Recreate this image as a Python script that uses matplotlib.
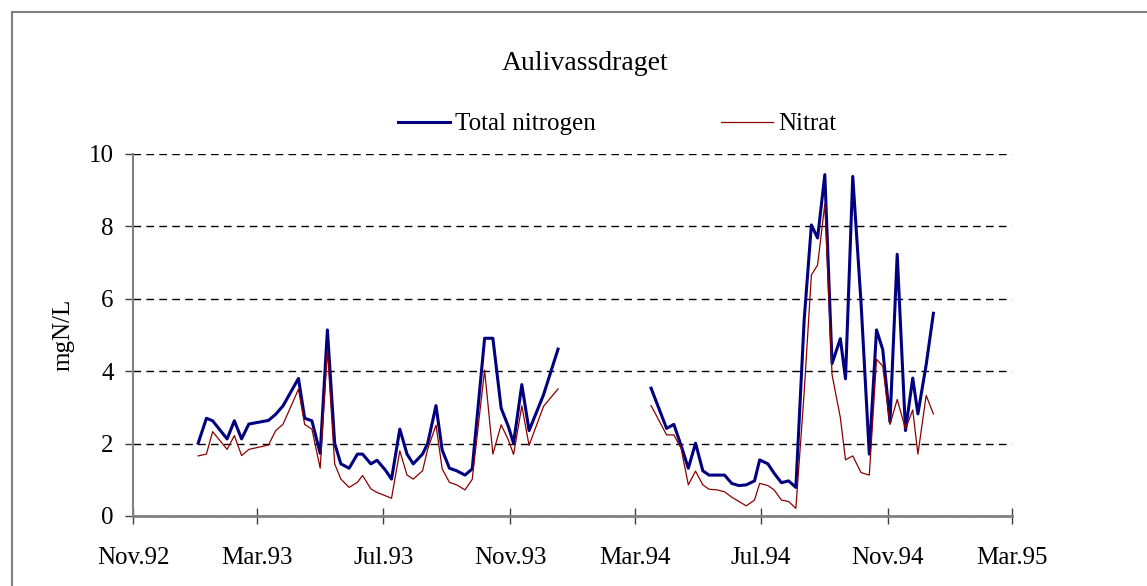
import numpy as np
import pandas as pd
import matplotlib
matplotlib.use('Agg')
import matplotlib.pyplot as plt
import matplotlib.dates as mdates
from matplotlib.patches import Rectangle

# sampling dates (weekly, with a winter gap)
dates = ['1993-01-03', '1993-01-11', '1993-01-17', '1993-01-31', '1993-02-07', '1993-02-14',
         '1993-02-21', '1993-03-12', '1993-03-19', '1993-03-26', '1993-04-10', '1993-04-16',
         '1993-04-23', '1993-05-01', '1993-05-08', '1993-05-15', '1993-05-21', '1993-05-29',
         '1993-06-06', '1993-06-11', '1993-06-19', '1993-06-25', '1993-07-03', '1993-07-09',
         '1993-07-17', '1993-07-24', '1993-07-30', '1993-08-08', '1993-08-13', '1993-08-21',
         '1993-08-27', '1993-09-03', '1993-09-10', '1993-09-18', '1993-09-25', '1993-10-07',
         '1993-10-15', '1993-10-23', '1993-10-30', '1993-11-04', '1993-11-12', '1993-11-19',
         '1993-12-03', '1993-12-17',
         '1994-03-17', '1994-04-01', '1994-04-08', '1994-04-15', '1994-04-22', '1994-04-29',
         '1994-05-06', '1994-05-12', '1994-05-20', '1994-05-27', '1994-06-03', '1994-06-10',
         '1994-06-17', '1994-06-25', '1994-06-30', '1994-07-08', '1994-07-14', '1994-07-21',
         '1994-07-28', '1994-08-04', '1994-08-12', '1994-08-19', '1994-08-25', '1994-09-01',
         '1994-09-08', '1994-09-16', '1994-09-21', '1994-09-28', '1994-10-06', '1994-10-14',
         '1994-10-21', '1994-10-27', '1994-11-03', '1994-11-10', '1994-11-18', '1994-11-25',
         '1994-11-30', '1994-12-08', '1994-12-15']

total_n = [2.01, 2.70, 2.63, 2.13, 2.63, 2.13, 2.54, 2.64, 2.81, 3.04, 3.80, 2.70,
           2.63, 1.73, 5.14, 2.01, 1.44, 1.32, 1.71, 1.71, 1.44, 1.54, 1.27, 1.02,
           2.40, 1.71, 1.44, 1.71, 2.01, 3.05, 1.82, 1.32, 1.25, 1.13, 1.30, 4.91,
           4.91, 2.98, 2.47, 2.01, 3.63, 2.36, 3.35, 4.61,
           3.53, 2.42, 2.53, 1.95, 1.32, 2.01, 1.25, 1.13, 1.13, 1.13, 0.90, 0.84,
           0.86, 0.97, 1.55, 1.44, 1.18, 0.92, 0.97, 0.79, 5.41, 8.04, 7.68, 9.43,
           4.21, 4.90, 3.79, 9.38, 5.90, 1.71, 5.14, 4.60, 2.60, 7.23, 2.36, 3.81,
           2.82, 4.18, 5.60]

nitrat = [1.66, 1.71, 2.33, 1.84, 2.22, 1.67, 1.84, 1.96, 2.36, 2.53, 3.50, 2.53,
          2.40, 1.32, 4.59, 1.44, 1.02, 0.79, 0.93, 1.12, 0.75, 0.65, 0.56, 0.49,
          1.80, 1.13, 1.02, 1.25, 1.85, 2.51, 1.30, 0.93, 0.86, 0.72, 1.01, 4.03,
          1.71, 2.52, 2.10, 1.70, 3.04, 1.95, 3.03, 3.51,
          3.05, 2.24, 2.24, 1.87, 0.86, 1.24, 0.86, 0.74, 0.72, 0.67, 0.52, 0.40,
          0.28, 0.44, 0.90, 0.84, 0.72, 0.44, 0.40, 0.21, 3.40, 6.66, 6.93, 8.62,
          3.90, 2.72, 1.55, 1.66, 1.20, 1.13, 4.33, 4.14, 2.53, 3.22, 2.40, 2.93,
          1.71, 3.33, 2.82]

df = pd.DataFrame({'date': pd.to_datetime(dates), 'tot': total_n, 'no3': nitrat})
# break the line over the winter gap
df['seg'] = (df['date'].diff() > pd.Timedelta(days=40)).cumsum()

plt.rcParams['font.family'] = ['Liberation Serif', 'DejaVu Serif']

fig = plt.figure(figsize=(11.47, 5.86), dpi=100)
ax = fig.add_axes([133/1147, 70/586, 879/1147, 362/586])

for k, g in df.groupby('seg'):
    l1, = ax.plot(g['date'], g['tot'], color='#000080', lw=2.2, zorder=3)
    l2, = ax.plot(g['date'], g['no3'], color='#8B0000', lw=0.9, zorder=4)

ax.set_xlim(pd.Timestamp('1992-11-01'), pd.Timestamp('1995-03-01'))
ax.set_ylim(0, 10)
ax.set_yticks([0, 2, 4, 6, 8, 10])
ax.xaxis.set_major_locator(mdates.MonthLocator(bymonth=[3, 7, 11]))
ax.xaxis.set_major_formatter(mdates.DateFormatter('%b.%y'))

ax.yaxis.grid(True, color='black', lw=1.0, linestyle=(0, (5.5, 3.8)))
ax.set_axisbelow(True)
for s in ['top', 'right']:
    ax.spines[s].set_visible(False)
ax.spines['left'].set_color('#808080')
ax.spines['left'].set_linewidth(1.5)
ax.spines['bottom'].set_color('#808080')
ax.spines['bottom'].set_linewidth(2)

ax.tick_params(axis='y', direction='out', length=6, width=1, labelsize=18, pad=8, color='#404040')
ax.tick_params(axis='x', direction='inout', length=12, width=1, labelsize=18, pad=16, color='#404040')

ax.set_ylabel('mgN/L', fontsize=18, labelpad=10)

fig.text(585/1147, 1 - 64/586, 'Aulivassdraget', fontsize=20, ha='center', va='center')

leg = fig.legend([l1, l2], ['Total nitrogen', 'Nitrat'], loc='center',
                 bbox_to_anchor=(617/1147, 1 - 124/586), ncol=2, frameon=False,
                 fontsize=18, handlelength=2.1, handletextpad=0.2, columnspacing=5.0)

# outer chart border
fig.patches.append(Rectangle((12/1147, -0.1), 1.2, 1 - 12/586 + 0.1, transform=fig.transFigure,
                             fill=False, edgecolor='#808080', lw=1.5))

plt.savefig('out.png', dpi=100)
